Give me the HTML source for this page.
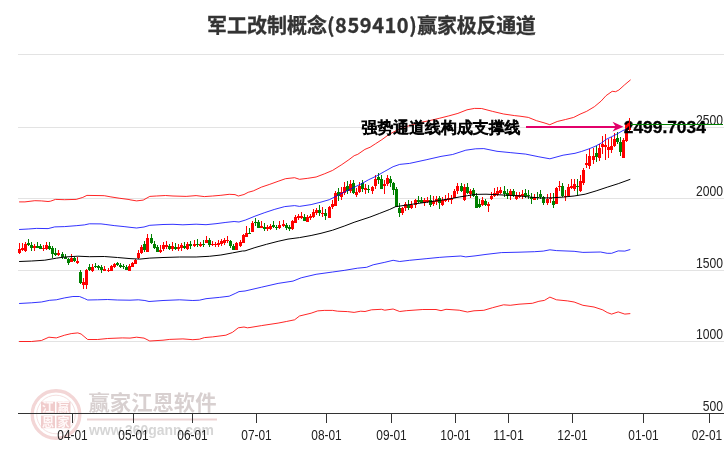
<!DOCTYPE html>
<html><head><meta charset="utf-8"><title>军工改制概念(859410)赢家极反通道</title><style>
html,body{margin:0;padding:0;background:#fff;}
body{width:726px;height:450px;overflow:hidden;}
svg{display:block}
.title{font-family:"Noto Sans CJK SC","Liberation Sans",sans-serif;font-weight:bold;font-size:20px;fill:#333;stroke:#333;stroke-width:0.3}
.yl,.xl{font-family:"Liberation Sans",Arial,sans-serif;font-size:14px;fill:#222}
.an{font-family:"Liberation Sans","WenQuanYi Zen Hei",sans-serif;font-size:16px;fill:#000;stroke:#000;stroke-width:1}
.val{font-family:"Liberation Sans",Arial,sans-serif;font-weight:bold;font-size:16.5px;fill:#000;stroke:#000;stroke-width:0.35}
.wm{font-family:"Liberation Sans","Noto Sans CJK SC",sans-serif;font-weight:bold;font-size:21px;fill:#d8d0d0}
.ww{font-family:"Liberation Sans",sans-serif;font-weight:bold;font-size:15px;fill:#d6d6d6}
.wl{font-family:"Liberation Sans","Noto Sans CJK SC",sans-serif;font-weight:bold;font-size:12px;fill:#fff8f8;text-anchor:middle}
</style></head><body>
<svg width="726" height="450" viewBox="0 0 726 450">
<text x="207" y="33.2" class="title">军工改制概念<tspan letter-spacing="0.55">(859410)</tspan><tspan letter-spacing="-0.3">赢家极反通道</tspan></text>

<g>
 <circle cx="56" cy="414.5" r="23.8" fill="none" stroke="#f3d6d6" stroke-width="3.4"/>
 <circle cx="56" cy="414.5" r="19.3" fill="none" stroke="#f5e0e0" stroke-width="1"/>
 <rect x="41" y="401.7" width="14" height="11.3" fill="#f0cccc"/>
 <rect x="56.5" y="401.7" width="14" height="11.3" fill="#f0cccc"/>
 <rect x="41" y="415.6" width="14" height="12.6" fill="#f0cccc"/>
 <rect x="56.5" y="415.6" width="14" height="12.6" fill="#f0cccc"/>
 <text x="48" y="412" class="wl">江</text>
 <text x="63.5" y="412" class="wl">赢</text>
 <text x="48" y="426.8" class="wl">恩</text>
 <text x="63.5" y="426.8" class="wl">家</text>
 <text x="88.5" y="409.8" class="wm" textLength="128" lengthAdjust="spacingAndGlyphs">赢家江恩软件</text>
 <line x1="87" y1="419.5" x2="217" y2="419.5" stroke="#edd4d4" stroke-width="2"/>
 <text x="89" y="435" class="ww" textLength="125" lengthAdjust="spacingAndGlyphs">www.360gann.com</text>
</g>
<line x1="18" y1="54.5" x2="724" y2="54.5" stroke="#e3e3e3" stroke-width="1"/><line x1="18" y1="127.5" x2="724" y2="127.5" stroke="#e3e3e3" stroke-width="1"/><line x1="18" y1="198.5" x2="724" y2="198.5" stroke="#e3e3e3" stroke-width="1"/><line x1="18" y1="270.5" x2="724" y2="270.5" stroke="#e3e3e3" stroke-width="1"/><line x1="18" y1="341.5" x2="724" y2="341.5" stroke="#e3e3e3" stroke-width="1"/>
<line x1="18" y1="413.5" x2="724" y2="413.5" stroke="#333" stroke-width="1"/>
<line x1="72.5" y1="413" x2="72.5" y2="423" stroke="#333" stroke-width="1"/><line x1="133.5" y1="413" x2="133.5" y2="423" stroke="#333" stroke-width="1"/><line x1="192.5" y1="413" x2="192.5" y2="423" stroke="#333" stroke-width="1"/><line x1="256.5" y1="413" x2="256.5" y2="423" stroke="#333" stroke-width="1"/><line x1="326.5" y1="413" x2="326.5" y2="423" stroke="#333" stroke-width="1"/><line x1="391.5" y1="413" x2="391.5" y2="423" stroke="#333" stroke-width="1"/><line x1="455.5" y1="413" x2="455.5" y2="423" stroke="#333" stroke-width="1"/><line x1="508.5" y1="413" x2="508.5" y2="423" stroke="#333" stroke-width="1"/><line x1="572.5" y1="413" x2="572.5" y2="423" stroke="#333" stroke-width="1"/><line x1="643.5" y1="413" x2="643.5" y2="423" stroke="#333" stroke-width="1"/><line x1="709.5" y1="413" x2="709.5" y2="423" stroke="#333" stroke-width="1"/>
<text x="72.5" y="440.4" class="xl" text-anchor="middle" textLength="30.5" lengthAdjust="spacingAndGlyphs">04-01</text><text x="133.5" y="440.4" class="xl" text-anchor="middle" textLength="30.5" lengthAdjust="spacingAndGlyphs">05-01</text><text x="192.5" y="440.4" class="xl" text-anchor="middle" textLength="30.5" lengthAdjust="spacingAndGlyphs">06-01</text><text x="256.5" y="440.4" class="xl" text-anchor="middle" textLength="30.5" lengthAdjust="spacingAndGlyphs">07-01</text><text x="326.5" y="440.4" class="xl" text-anchor="middle" textLength="30.5" lengthAdjust="spacingAndGlyphs">08-01</text><text x="391.5" y="440.4" class="xl" text-anchor="middle" textLength="30.5" lengthAdjust="spacingAndGlyphs">09-01</text><text x="455.5" y="440.4" class="xl" text-anchor="middle" textLength="30.5" lengthAdjust="spacingAndGlyphs">10-01</text><text x="508.5" y="440.4" class="xl" text-anchor="middle" textLength="30.5" lengthAdjust="spacingAndGlyphs">11-01</text><text x="572.5" y="440.4" class="xl" text-anchor="middle" textLength="30.5" lengthAdjust="spacingAndGlyphs">12-01</text><text x="643.5" y="440.4" class="xl" text-anchor="middle" textLength="30.5" lengthAdjust="spacingAndGlyphs">01-01</text><text x="707" y="440.4" class="xl" text-anchor="middle" textLength="30.5" lengthAdjust="spacingAndGlyphs">02-01</text>
<text x="723" y="124.6" class="yl" text-anchor="end" textLength="27.0" lengthAdjust="spacingAndGlyphs">2500</text><text x="723" y="196.4" class="yl" text-anchor="end" textLength="27.0" lengthAdjust="spacingAndGlyphs">2000</text><text x="723" y="268.3" class="yl" text-anchor="end" textLength="27.0" lengthAdjust="spacingAndGlyphs">1500</text><text x="723" y="339.2" class="yl" text-anchor="end" textLength="27.0" lengthAdjust="spacingAndGlyphs">1000</text><text x="723" y="411.2" class="yl" text-anchor="end" textLength="20.2" lengthAdjust="spacingAndGlyphs">500</text>
<path fill="#ff0000" d="M19,243h1v11h-1z M18,249h3v4h-3z M22,243h1v8h-1z M21,248h3v2h-3z M25,242h1v10h-1z M24,244h3v7h-3z M34,244h1v7h-1z M33,246h3v2h-3z M43,245h1v6h-1z M42,248h3v1h-3z M46,242h1v8h-1z M45,245h3v4h-3z M58,250h1v6h-1z M57,253h3v2h-3z M71,254h1v8h-1z M70,258h3v4h-3z M77,257h1v7h-1z M76,261h3v2h-3z M83,278h1v11h-1z M82,282h3v3h-3z M86,269h1v20h-1z M85,270h3v15h-3z M92,264h1v8h-1z M91,267h3v4h-3z M104,266h1v5h-1z M103,269h3v2h-3z M108,268h1v4h-1z M107,270h3v1h-3z M111,265h1v6h-1z M110,266h3v5h-3z M114,263h1v5h-1z M113,264h3v3h-3z M129,264h1v7h-1z M128,266h3v5h-3z M132,262h1v5h-1z M131,263h3v4h-3z M135,259h1v5h-1z M134,260h3v4h-3z M138,250h1v9h-1z M137,253h3v5h-3z M141,245h1v9h-1z M140,247h3v6h-3z M147,234h1v18h-1z M146,238h3v14h-3z M160,245h1v8h-1z M159,250h3v2h-3z M163,242h1v9h-1z M162,245h3v4h-3z M166,241h1v8h-1z M165,245h3v2h-3z M172,242h1v9h-1z M171,246h3v3h-3z M178,244h1v7h-1z M177,247h3v2h-3z M181,243h1v8h-1z M180,245h3v3h-3z M187,242h1v8h-1z M186,244h3v5h-3z M194,240h1v7h-1z M193,244h3v2h-3z M200,242h1v5h-1z M199,244h3v2h-3z M206,236h1v7h-1z M205,240h3v3h-3z M212,241h1v5h-1z M211,244h3v1h-3z M215,242h1v5h-1z M214,244h3v1h-3z M218,240h1v7h-1z M217,243h3v2h-3z M221,239h1v7h-1z M220,241h3v3h-3z M224,238h1v7h-1z M223,240h3v3h-3z M227,236h1v7h-1z M226,240h3v1h-3z M236,242h1v8h-1z M235,243h3v7h-3z M240,240h1v7h-1z M239,242h3v4h-3z M243,234h1v9h-1z M242,235h3v8h-3z M246,226h1v11h-1z M245,233h3v4h-3z M252,221h1v11h-1z M251,223h3v9h-3z M261,221h1v7h-1z M260,226h3v2h-3z M267,225h1v6h-1z M266,227h3v2h-3z M270,224h1v6h-1z M269,226h3v3h-3z M279,221h1v8h-1z M278,225h3v3h-3z M283,220h1v7h-1z M282,224h3v2h-3z M292,220h1v10h-1z M291,221h3v8h-3z M295,215h1v8h-1z M294,217h3v6h-3z M298,214h1v6h-1z M297,216h3v2h-3z M301,212h1v7h-1z M300,216h3v2h-3z M307,215h1v7h-1z M306,217h3v5h-3z M310,214h1v6h-1z M309,216h3v2h-3z M313,209h1v9h-1z M312,212h3v5h-3z M316,208h1v7h-1z M315,210h3v3h-3z M322,207h1v10h-1z M321,213h3v1h-3z M329,206h1v12h-1z M328,207h3v11h-3z M332,200h1v9h-1z M331,204h3v3h-3z M335,191h1v15h-1z M334,193h3v13h-3z M341,187h1v13h-1z M340,192h3v5h-3z M344,182h1v13h-1z M343,187h3v6h-3z M350,180h1v13h-1z M349,184h3v7h-3z M356,188h1v9h-1z M355,192h3v3h-3z M359,182h1v11h-1z M358,186h3v6h-3z M365,184h1v10h-1z M364,188h3v2h-3z M372,186h1v8h-1z M371,187h3v4h-3z M375,175h1v14h-1z M374,179h3v7h-3z M384,180h1v14h-1z M383,184h3v2h-3z M387,175h1v11h-1z M386,178h3v6h-3z M402,207h1v8h-1z M401,208h3v5h-3z M405,202h1v9h-1z M404,204h3v4h-3z M411,201h1v8h-1z M410,205h3v3h-3z M415,199h1v9h-1z M414,200h3v5h-3z M424,198h1v8h-1z M423,200h3v3h-3z M427,197h1v6h-1z M426,200h3v2h-3z M433,196h1v10h-1z M432,201h3v3h-3z M436,196h1v9h-1z M435,199h3v3h-3z M442,197h1v9h-1z M441,200h3v5h-3z M445,195h1v7h-1z M444,199h3v2h-3z M448,193h1v9h-1z M447,198h3v2h-3z M451,195h1v9h-1z M450,198h3v2h-3z M454,189h1v9h-1z M453,191h3v7h-3z M457,183h1v11h-1z M456,186h3v5h-3z M464,184h1v17h-1z M463,187h3v13h-3z M470,189h1v9h-1z M469,191h3v3h-3z M482,197h1v9h-1z M481,200h3v5h-3z M488,202h1v10h-1z M487,204h3v2h-3z M491,192h1v8h-1z M490,196h3v3h-3z M494,188h1v9h-1z M493,193h3v3h-3z M497,187h1v9h-1z M496,191h3v4h-3z M500,187h1v7h-1z M499,190h3v3h-3z M510,189h1v11h-1z M509,191h3v4h-3z M516,192h1v8h-1z M515,195h3v4h-3z M519,192h1v6h-1z M518,195h3v2h-3z M522,190h1v9h-1z M521,194h3v2h-3z M534,194h1v6h-1z M533,197h3v3h-3z M547,194h1v11h-1z M546,199h3v4h-3z M550,193h1v10h-1z M549,198h3v1h-3z M556,187h1v17h-1z M555,188h3v16h-3z M559,181h1v10h-1z M558,186h3v1h-3z M565,190h1v11h-1z M564,196h3v1h-3z M568,184h1v12h-1z M567,187h3v9h-3z M571,179h1v10h-1z M570,186h3v2h-3z M574,179h1v12h-1z M573,184h3v5h-3z M580,175h1v17h-1z M579,181h3v10h-3z M583,168h1v17h-1z M582,170h3v13h-3z M586,154h1v14h-1z M585,163h3v2h-3z M589,149h1v20h-1z M588,156h3v10h-3z M593,148h1v16h-1z M592,156h3v4h-3z M599,144h1v17h-1z M598,148h3v10h-3z M602,136h1v18h-1z M601,144h3v3h-3z M605,134h1v26h-1z M604,145h3v2h-3z M608,139h1v19h-1z M607,147h3v3h-3z M611,137h1v16h-1z M610,146h3v4h-3z M614,133h1v14h-1z M613,139h3v7h-3z M623,138h1v20h-1z M622,140h3v18h-3z M626,123h1v19h-1z M625,123h3v18h-3z M629,118h1v13h-1z M628,122h3v8h-3z"/>
<path fill="#008000" d="M28,239h1v7h-1z M27,243h3v2h-3z M31,242h1v9h-1z M30,245h3v3h-3z M37,242h1v6h-1z M36,246h3v2h-3z M40,244h1v5h-1z M39,246h3v3h-3z M49,242h1v8h-1z M48,246h3v3h-3z M52,246h1v12h-1z M51,248h3v6h-3z M55,248h1v8h-1z M54,253h3v2h-3z M62,252h1v7h-1z M61,254h3v3h-3z M65,254h1v5h-1z M64,257h3v2h-3z M68,258h1v7h-1z M67,259h3v4h-3z M74,257h1v5h-1z M73,258h3v3h-3z M80,270h1v14h-1z M79,272h3v11h-3z M89,264h1v7h-1z M88,267h3v3h-3z M95,263h1v5h-1z M94,266h3v1h-3z M98,265h1v5h-1z M97,266h3v2h-3z M101,265h1v8h-1z M100,267h3v3h-3z M117,262h1v4h-1z M116,263h3v2h-3z M120,263h1v5h-1z M119,265h3v2h-3z M123,264h1v5h-1z M122,266h3v1h-3z M126,265h1v5h-1z M125,267h3v3h-3z M144,241h1v11h-1z M143,244h3v6h-3z M151,234h1v10h-1z M150,238h3v5h-3z M154,241h1v8h-1z M153,244h3v4h-3z M157,245h1v7h-1z M156,247h3v5h-3z M169,244h1v6h-1z M168,246h3v3h-3z M175,243h1v7h-1z M174,247h3v2h-3z M184,242h1v7h-1z M183,246h3v2h-3z M190,241h1v8h-1z M189,244h3v2h-3z M197,239h1v8h-1z M196,244h3v1h-3z M203,240h1v7h-1z M202,244h3v1h-3z M209,238h1v9h-1z M208,240h3v5h-3z M230,240h1v8h-1z M229,241h3v5h-3z M233,244h1v6h-1z M232,246h3v4h-3z M249,228h1v6h-1z M248,233h3v1h-3z M255,218h1v8h-1z M254,222h3v1h-3z M258,220h1v8h-1z M257,222h3v6h-3z M264,223h1v8h-1z M263,227h3v2h-3z M273,221h1v7h-1z M272,225h3v2h-3z M276,225h1v5h-1z M275,227h3v1h-3z M286,223h1v7h-1z M285,225h3v3h-3z M289,225h1v6h-1z M288,227h3v2h-3z M304,214h1v7h-1z M303,217h3v4h-3z M319,205h1v11h-1z M318,210h3v3h-3z M325,209h1v11h-1z M324,213h3v3h-3z M338,188h1v13h-1z M337,192h3v4h-3z M347,181h1v13h-1z M346,186h3v5h-3z M353,180h1v14h-1z M352,183h3v10h-3z M362,180h1v12h-1z M361,183h3v6h-3z M368,185h1v8h-1z M367,189h3v1h-3z M378,173h1v11h-1z M377,177h3v3h-3z M381,175h1v14h-1z M380,179h3v10h-3z M390,176h1v11h-1z M389,179h3v4h-3z M393,182h1v13h-1z M392,183h3v7h-3z M396,187h1v20h-1z M395,189h3v18h-3z M399,203h1v14h-1z M398,208h3v5h-3z M408,200h1v10h-1z M407,205h3v3h-3z M418,196h1v7h-1z M417,200h3v2h-3z M421,197h1v6h-1z M420,200h3v3h-3z M430,195h1v12h-1z M429,200h3v5h-3z M439,196h1v13h-1z M438,198h3v5h-3z M461,183h1v9h-1z M460,186h3v5h-3z M467,183h1v11h-1z M466,187h3v6h-3z M473,188h1v9h-1z M472,190h3v6h-3z M476,193h1v15h-1z M475,196h3v12h-3z M479,199h1v9h-1z M478,204h3v3h-3z M485,199h1v7h-1z M484,201h3v4h-3z M504,186h1v11h-1z M503,191h3v3h-3z M507,189h1v10h-1z M506,193h3v3h-3z M513,189h1v8h-1z M512,191h3v4h-3z M525,189h1v9h-1z M524,193h3v3h-3z M528,190h1v9h-1z M527,195h3v1h-3z M531,193h1v11h-1z M530,197h3v2h-3z M537,192h1v8h-1z M536,197h3v1h-3z M540,190h1v9h-1z M539,194h3v3h-3z M543,196h1v9h-1z M542,197h3v6h-3z M553,193h1v15h-1z M552,201h3v4h-3z M562,183h1v14h-1z M561,186h3v10h-3z M577,179h1v17h-1z M576,186h3v1h-3z M596,146h1v16h-1z M595,153h3v4h-3z M617,132h1v12h-1z M616,138h3v4h-3z M620,137h1v19h-1z M619,142h3v10h-3z"/>
<path d="M19.1,201.9 L24.9,201.9 L34.8,200.7 L41.4,200.9 L48.0,201.5 L50.5,201.2 L55.5,199.4 L64.6,199.7 L76.2,199.4 L82.8,197.4 L86.9,195.4 L101.0,195.6 L104.3,195.7 L110.9,196.9 L119.1,198.2 L129.0,199.5 L130.0,199.8 L136.6,200.9 L143.2,200.1 L149.8,196.4 L156.4,196.0 L165.5,195.5 L173.0,196.0 L186.2,196.4 L196.1,195.6 L204.4,196.6 L212.6,196.0 L220.9,195.3 L229.2,194.3 L235.0,194.6 L238.3,196.0 L244.0,194.5 L248.2,192.3 L253.3,190.9 L261.5,187.1 L269.8,184.3 L278.1,181.3 L285.5,178.7 L294.6,177.7 L299.5,179.3 L307.8,178.3 L316.1,177.0 L324.3,173.9 L332.6,170.4 L341.8,164.6 L348.9,159.7 L354.2,155.7 L357.8,154.3 L364.9,149.4 L370.2,147.2 L375.6,143.7 L381.8,139.7 L388.0,135.2 L393.3,132.1 L396.9,130.3 L403.0,127.5 L410.0,125.5 L420.0,122.5 L430.0,120.5 L439.7,118.2 L448.8,115.9 L457.9,113.4 L467.0,109.8 L474.5,108.4 L481.6,108.5 L492.6,111.4 L503.6,114.0 L514.6,115.6 L520.0,116.2 L528.3,117.4 L536.5,120.7 L544.0,122.8 L549.8,124.7 L557.2,121.5 L565.5,119.5 L573.7,117.4 L580.0,114.2 L586.7,111.3 L594.4,106.7 L601.1,101.1 L606.1,95.6 L612.2,91.3 L615.6,91.7 L618.9,90.0 L624.4,85.0 L630.6,79.8" fill="none" stroke="#ff0000" stroke-width="1" stroke-opacity="0.85"/><path d="M19.1,229.5 L28.2,229.0 L36.5,228.4 L48.1,228.6 L54.7,226.9 L64.6,226.6 L76.2,225.7 L84.4,224.9 L89.4,223.8 L101.0,223.9 L105.1,224.4 L114.2,225.6 L124.1,226.6 L130.0,227.3 L136.6,228.0 L144.0,227.0 L149.8,225.3 L163.0,224.5 L173.0,224.3 L182.9,224.8 L196.1,224.2 L206.0,224.7 L216.0,223.7 L225.9,222.4 L234.1,221.5 L239.0,222.0 L245.3,220.1 L254.9,216.2 L264.8,212.6 L274.8,209.3 L284.7,206.6 L294.6,205.6 L299.5,206.4 L311.1,204.6 L321.0,202.1 L329.3,199.7 L337.6,195.5 L345.8,191.4 L354.1,187.3 L362.0,183.5 L368.3,179.9 L376.5,176.0 L384.8,171.3 L393.1,166.7 L399.7,164.4 L409.6,163.4 L426.1,159.8 L441.0,156.4 L452.6,154.5 L465.8,150.2 L475.7,148.8 L483.8,148.6 L497.0,151.3 L510.2,152.6 L525.7,154.1 L538.9,156.8 L549.9,158.8 L563.1,155.2 L575.0,153.3 L581.7,151.4 L588.3,149.1 L595.0,146.4 L601.7,142.8 L606.1,139.4 L611.7,136.7 L617.2,133.9 L622.8,130.6 L625.6,129.4 L630.0,127.5" fill="none" stroke="#0000ff" stroke-width="1" stroke-opacity="0.8"/><path d="M19.1,261.5 L31.5,261.0 L44.8,260.2 L56.3,258.2 L64.6,257.0 L77.8,256.2 L89.4,256.7 L104.3,256.5 L117.5,257.5 L130.0,258.6 L139.9,259.1 L149.8,258.1 L163.0,257.5 L179.6,257.0 L196.1,257.0 L209.3,256.3 L220.9,255.0 L232.5,252.9 L242.4,251.0 L245.0,250.9 L254.9,247.6 L266.5,244.3 L278.1,241.3 L288.0,239.1 L299.5,237.6 L311.1,235.5 L321.0,233.3 L332.6,230.2 L344.2,226.1 L354.1,222.3 L362.0,219.7 L369.9,217.1 L379.8,213.3 L389.8,209.4 L395.5,206.7 L403.0,205.6 L414.5,203.9 L426.1,202.3 L437.7,200.6 L449.3,199.0 L459.2,197.0 L467.4,195.7 L475.0,194.4 L486.0,194.2 L497.0,194.7 L508.0,195.3 L519.0,195.8 L530.0,197.1 L541.0,198.0 L552.0,197.8 L563.1,197.1 L574.1,196.0 L585.1,194.2 L596.1,190.9 L607.2,187.2 L618.2,183.7 L630.3,179.3" fill="none" stroke="#000000" stroke-width="1"/><path d="M19.1,303.5 L31.5,302.8 L41.4,302.0 L49.7,300.3 L56.3,299.8 L64.6,297.9 L72.9,296.5 L79.5,296.5 L84.4,298.5 L87.7,300.0 L97.6,299.8 L107.6,299.5 L117.5,300.0 L130.0,300.2 L138.3,299.8 L144.9,300.5 L149.0,301.5 L163.0,300.5 L179.6,299.8 L192.8,300.5 L199.4,300.2 L206.0,298.7 L219.3,297.4 L229.2,296.2 L235.8,293.2 L239.0,291.6 L245.0,291.0 L261.5,287.2 L278.1,283.4 L293.0,281.1 L301.2,277.8 L316.1,274.3 L332.6,272.0 L344.2,270.4 L357.4,268.2 L366.6,267.3 L373.2,264.8 L384.8,262.3 L393.1,260.3 L399.7,261.5 L409.6,260.3 L426.1,258.7 L439.3,257.4 L446.0,256.9 L460.8,256.0 L465.8,256.9 L475.0,255.9 L486.0,254.4 L501.4,252.6 L519.0,252.2 L534.5,251.7 L543.3,251.1 L549.9,249.8 L556.5,250.6 L574.1,251.3 L582.9,252.4 L600.6,252.0 L607.2,253.3 L611.6,253.3 L618.2,250.9 L624.8,251.1 L630.3,249.5" fill="none" stroke="#0000ff" stroke-width="1" stroke-opacity="0.8"/><path d="M19.1,341.5 L31.5,341.5 L41.4,340.5 L48.9,337.2 L56.3,337.9 L64.6,335.2 L71.2,333.6 L77.8,332.9 L81.1,334.0 L87.7,339.5 L97.6,339.5 L107.6,338.5 L122.4,337.9 L130.0,338.1 L136.6,337.2 L144.0,338.1 L149.8,341.0 L163.0,340.2 L169.7,339.4 L182.9,338.9 L192.8,339.7 L199.4,339.2 L204.4,337.6 L212.6,336.9 L225.9,335.2 L232.5,332.3 L238.3,327.8 L244.0,327.0 L247.4,327.8 L250.0,327.5 L261.5,325.6 L278.1,323.1 L286.3,321.5 L294.6,319.8 L299.5,316.0 L311.1,313.2 L317.7,310.9 L324.3,310.4 L332.6,310.4 L337.6,311.2 L347.5,311.6 L354.1,312.4 L360.7,311.2 L365.0,311.5 L371.6,309.8 L381.5,309.3 L384.8,310.2 L393.1,309.0 L399.7,311.5 L406.3,310.7 L422.8,309.5 L436.0,309.5 L441.0,310.7 L446.0,309.3 L459.2,310.2 L467.4,312.0 L474.0,310.8 L483.8,310.3 L492.6,307.7 L503.6,304.8 L510.2,305.3 L519.0,304.2 L532.3,303.3 L538.9,301.3 L544.4,300.4 L549.9,297.1 L556.5,299.8 L567.5,300.9 L574.1,302.0 L582.9,305.3 L594.0,307.0 L602.8,309.9 L607.2,312.5 L611.6,314.1 L618.2,311.9 L624.8,314.1 L630.3,313.6" fill="none" stroke="#ff0000" stroke-width="1" stroke-opacity="0.85"/>

<text x="361.5" y="133" class="an" textLength="159" lengthAdjust="spacingAndGlyphs">强势通道线构成支撑线</text>
<line x1="526" y1="127" x2="617" y2="127" stroke="#e2006a" stroke-width="2"/>
<path d="M623.5,126.8 L612.5,121.8 L615.8,126.8 L612.5,131.6 Z" fill="#e2006a"/>
<text x="623.8" y="132.5" class="val" textLength="82" lengthAdjust="spacingAndGlyphs">2499.7034</text>
<line x1="631" y1="124.5" x2="723" y2="124.5" stroke="#008000" stroke-width="1"/>
<path fill="#ff0000" d="M629,118h1v13h-1z"/>

</svg>
</body></html>
